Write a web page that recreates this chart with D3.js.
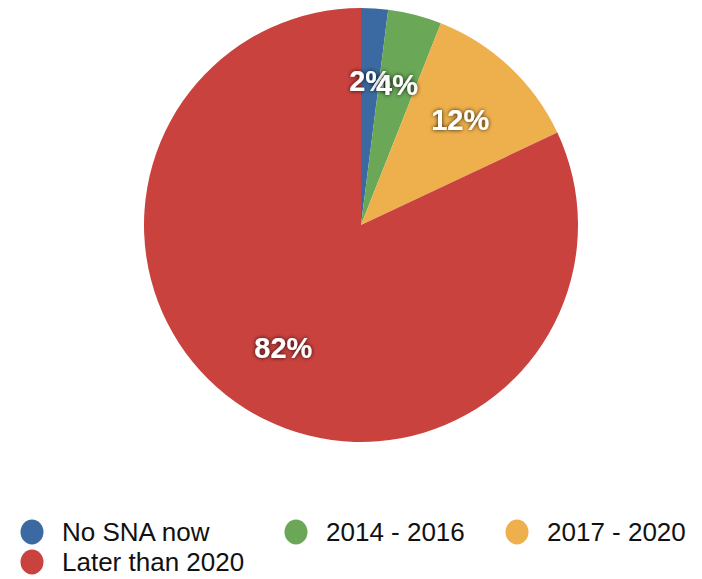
<!DOCTYPE html>
<html><head><meta charset="utf-8">
<script src="https://cdn.jsdelivr.net/npm/d3@7"></script>
<style>body{margin:0;background:#fff;}svg{display:block;}</style>
</head><body>
<svg id="c" width="702" height="579"></svg>
<script>
const categories = ["No SNA now", "2014 - 2016", "2017 - 2020", "Later than 2020"];
const values = [2, 4, 12, 82];
const colors = ["#3a6aa1", "#6aa757", "#eeb04c", "#c9423e"];

const svg = d3.select("#c");
const defs = svg.append("defs");
const f = defs.append("filter").attr("id","sh").attr("x","-20%").attr("y","-40%").attr("width","140%").attr("height","180%");
f.append("feDropShadow").attr("dx",0).attr("dy",0).attr("stdDeviation",2).attr("flood-color","#000").attr("flood-opacity",0.85);

const cx = 361, cy = 225, R = 217;
const pie = d3.pie().sort(null).value(d => d);
const arcs = pie(values);
const arc = d3.arc().innerRadius(0).outerRadius(R);
const labelArc = d3.arc().innerRadius(145).outerRadius(145);
const g = svg.append("g").attr("transform", `translate(${cx},${cy})`);
g.selectAll("path").data(arcs).join("path")
  .attr("d", arc).attr("fill", (d,i) => colors[i]);
g.selectAll("text").data(arcs).join("text")
  .attr("transform", d => `translate(${labelArc.centroid(d)})`)
  .attr("text-anchor","middle").attr("dy","0.36em")
  .attr("font-family","Liberation Sans, Arial, sans-serif")
  .attr("font-weight","bold").attr("font-size",29).attr("fill","#fff")
  .attr("filter","url(#sh)")
  .text(d => d.data + "%");

const legendPos = [[32,532],[296,532],[517,532],[32,562]];
const lg = svg.append("g").selectAll("g").data(categories).join("g")
  .attr("transform", (d,i) => `translate(${legendPos[i][0]},${legendPos[i][1]})`);
lg.append("ellipse").attr("rx",11.5).attr("ry",12.5).attr("fill",(d,i)=>colors[i]);
lg.append("text").attr("x",30).attr("dy","0.35em")
  .attr("font-family","Liberation Sans, Arial, sans-serif").attr("font-size",26).attr("fill","#111")
  .text(d => d);
</script>
</body></html>
